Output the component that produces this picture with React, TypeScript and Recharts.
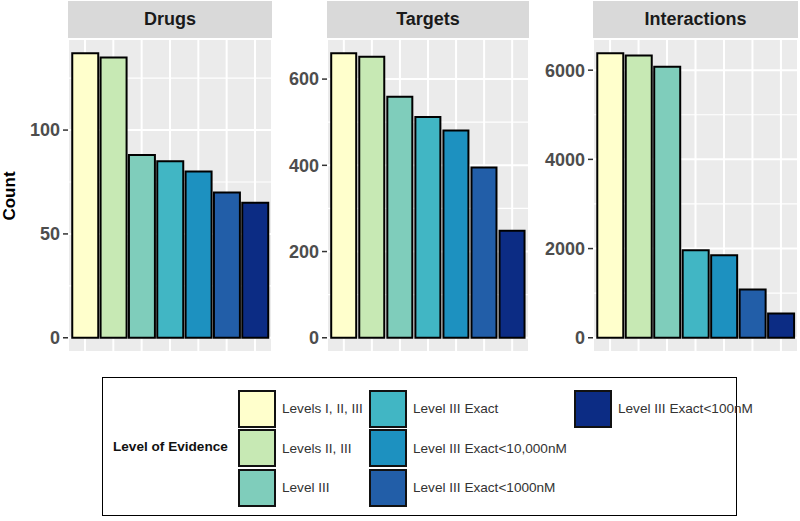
import { BarChart, Bar, XAxis, YAxis, CartesianGrid, Cell } from 'recharts';

// evidence levels, in plotting order
const levels = [
  'Levels I, II, III',
  'Levels II, III',
  'Level III',
  'Level III Exact',
  'Level III Exact<10,000nM',
  'Level III Exact<1000nM',
  'Level III Exact<100nM',
];

// YlGnBu, 7 classes
const levelColors = ['#FFFFCC', '#C7E9B4', '#7FCDBB', '#41B6C4', '#1D91C0', '#225EA8', '#0C2C84'];

const drugCounts = [137, 135, 88, 85, 80, 70, 65];
const targetCounts = [660, 652, 559, 512, 481, 395, 248];
const interactionCounts = [6380, 6327, 6074, 1961, 1849, 1081, 544];

const drugTicks = [0, 50, 100];
const drugMinor = [25, 75, 125];
const targetTicks = [0, 200, 400, 600];
const targetMinor = [100, 300, 500];
const interactionTicks = [0, 2000, 4000, 6000];
const interactionMinor = [1000, 3000, 5000];

const FONT = '"Liberation Sans", Arial, Helvetica, sans-serif';
const PANEL_TOP = 39;
const PANEL_H = 313;

type PanelProps = {
  title: string;
  values: number[];
  ticks: number[];
  minor: number[];
  left: number; // x of the panel background
  width: number;
  axisWidth: number;
};

function Panel({ title, values, ticks, minor, left, width, axisWidth }: PanelProps) {
  const data = levels.map((level, i) => ({ level, count: values[i] }));
  const max = Math.max(...values);
  // ggplot default: 5% expansion at both ends
  const domain = [-max * 0.05, max * 1.05];
  // discrete axis expand of 0.6 on each side
  const step = width / (levels.length - 1 + 1.2);
  const pad = step * 0.1;

  return (
    <>
      <div
        style={{
          position: 'absolute',
          left,
          top: 1,
          width,
          height: 37,
          background: '#D9D9D9',
          display: 'flex',
          alignItems: 'center',
          justifyContent: 'center',
          fontFamily: FONT,
          fontWeight: 'bold',
          fontSize: 18,
          color: '#1A1A1A',
        }}
      >
        {title}
      </div>
      <div style={{ position: 'absolute', left: left - axisWidth, top: PANEL_TOP }}>
        <BarChart
          width={width + axisWidth}
          height={PANEL_H}
          data={data}
          margin={{ top: 0, right: 0, bottom: 0, left: 0 }}
          barCategoryGap="5%"
        >
          {/* minor breaks, thinner, read from a hidden axis */}
          <CartesianGrid
            yAxisId="minor"
            vertical={false}
            fill="#EBEBEB"
            stroke="#FFFFFF"
            strokeWidth={1.2}
            strokeDasharray=""
          />
          <CartesianGrid stroke="#FFFFFF" strokeWidth={2} strokeDasharray="" />
          <XAxis dataKey="level" hide interval={0} padding={{ left: pad, right: pad }} />
          <YAxis yAxisId="minor" hide domain={domain} ticks={minor} interval={0} allowDataOverflow />
          <YAxis
            width={axisWidth}
            domain={domain}
            ticks={ticks}
            interval={0}
            allowDataOverflow
            axisLine={false}
            tickSize={5}
            tickMargin={3}
            tickLine={{ stroke: '#333333', strokeWidth: 1.5 }}
            tick={{ fill: '#4D4D4D', fontSize: 18, fontWeight: 'bold', fontFamily: FONT }}
          />
          <Bar dataKey="count" stroke="#000000" strokeWidth={2} isAnimationActive={false}>
            {data.map((d, i) => (
              <Cell key={d.level} fill={levelColors[i]} />
            ))}
          </Bar>
        </BarChart>
      </div>
    </>
  );
}

function EvidenceLegend() {
  return (
    <div
      style={{
        position: 'absolute',
        left: 102,
        top: 377,
        width: 633,
        height: 137,
        border: '1.5px solid #000',
        fontFamily: FONT,
        color: '#333',
      }}
    >
      <div
        style={{
          position: 'absolute',
          left: 10,
          top: 0,
          height: 137,
          display: 'flex',
          alignItems: 'center',
          fontWeight: 'bold',
          fontSize: 13.6,
          color: '#111',
        }}
      >
        Level of Evidence
      </div>
      <div
        style={{
          position: 'absolute',
          left: 135,
          top: 11,
          display: 'grid',
          gridTemplateRows: 'repeat(3, 39.5px)',
          gridAutoFlow: 'column',
          gridTemplateColumns: '131px 205px auto',
        }}
      >
        {levels.map((level, i) => (
          <div key={level} style={{ display: 'flex', alignItems: 'center', height: 39.5 }}>
            <div
              style={{
                width: 34,
                height: 34,
                background: levelColors[i],
                border: '2px solid #111',
                flex: 'none',
              }}
            />
            <span style={{ marginLeft: 6, fontSize: 13.6, whiteSpace: 'nowrap' }}>{level}</span>
          </div>
        ))}
      </div>
    </div>
  );
}

export default function App() {
  return (
    <div style={{ position: 'relative', width: 800, height: 521, background: '#fff', overflow: 'hidden' }}>
      <style>{`body{margin:0}`}</style>
      <div
        style={{
          position: 'absolute',
          left: 10,
          top: PANEL_TOP + PANEL_H / 2,
          transform: 'translate(-50%, -50%) rotate(-90deg)',
          fontFamily: FONT,
          fontWeight: 'bold',
          fontSize: 17,
          color: '#000',
        }}
      >
        Count
      </div>
      <Panel title="Drugs" values={drugCounts} ticks={drugTicks} minor={drugMinor} left={68} width={204} axisWidth={68} />
      <Panel title="Targets" values={targetCounts} ticks={targetTicks} minor={targetMinor} left={327} width={202} axisWidth={60} />
      <Panel
        title="Interactions"
        values={interactionCounts}
        ticks={interactionTicks}
        minor={interactionMinor}
        left={593}
        width={205}
        axisWidth={64}
      />
      <EvidenceLegend />
    </div>
  );
}
